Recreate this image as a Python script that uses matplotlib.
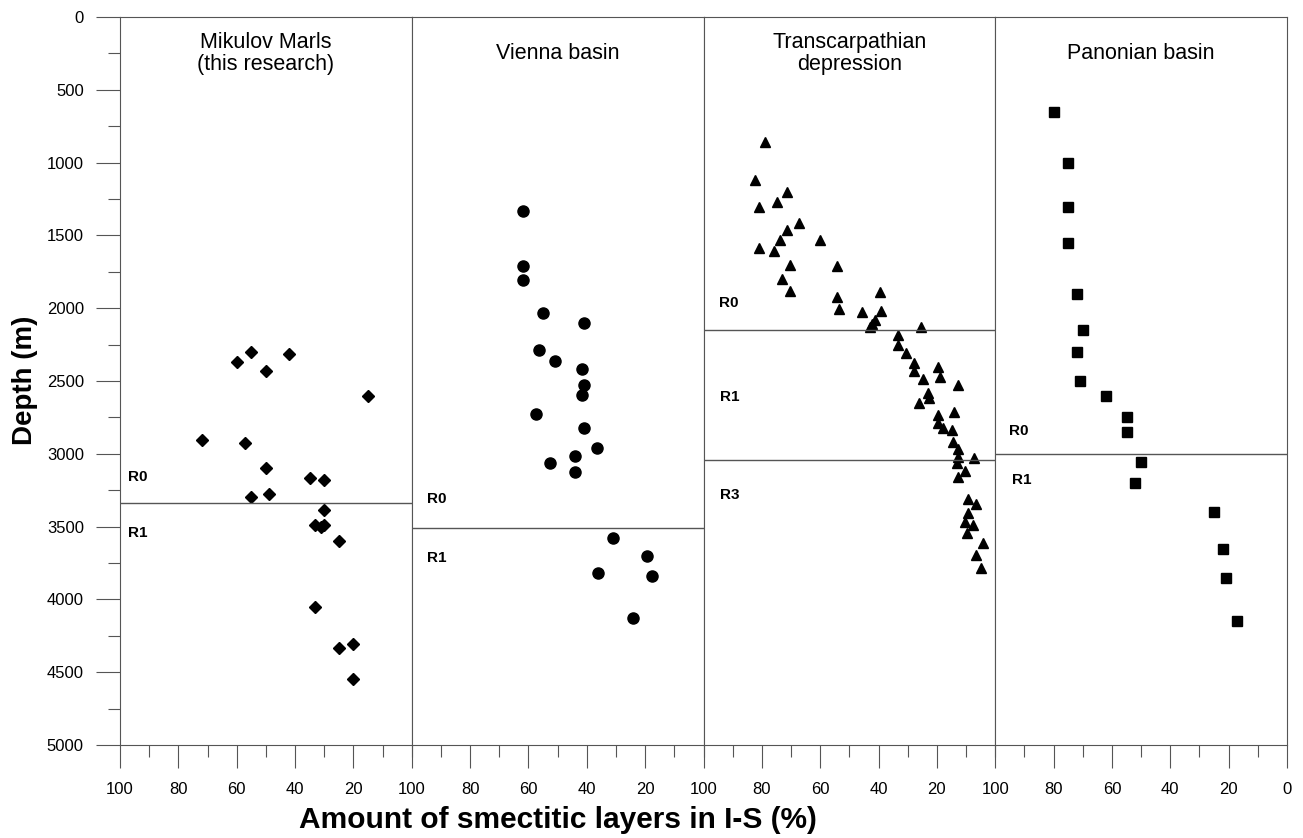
import matplotlib.pyplot as plt
from matplotlib.ticker import MultipleLocator

plt.rcParams['font.family'] = ['Liberation Sans', 'DejaVu Sans']

# Mikulov Marls (this research)
mik_ism = [60, 55, 50, 42, 15, 72, 57, 50, 35, 30, 55, 49, 30, 33, 31, 30, 25, 33, 25, 20, 20]
mik_depth = [2372, 2299, 2433, 2315, 2603, 2905, 2924, 3100, 3168, 3180, 3299, 3276,
             3386, 3490, 3500, 3488, 3597, 4054, 4336, 4306, 4549]

# Vienna basin
vie_ism = [62, 62, 62, 55, 41, 56.5, 51, 41.5, 41, 41.5, 57.5, 41, 36.5, 44, 52.5, 44,
           31, 19.5, 36, 17.5, 24]
vie_depth = [1330, 1710, 1805, 2030, 2105, 2290, 2365, 2415, 2530, 2595, 2730, 2820,
             2960, 3015, 3060, 3125, 3575, 3705, 3820, 3840, 4125]

# Transcarpathian depression
tra_ism = [79.0, 82.4, 71.5, 74.8, 81.1, 67.2, 71.5, 60.1, 73.7, 81.1, 75.7, 70.4, 54.1,
           73.0, 70.4, 39.5, 54.1, 53.5, 39.2, 45.6, 41.1, 42.3, 42.9, 25.4, 33.2, 33.2,
           30.7, 27.7, 27.8, 19.5, 18.9, 24.7, 12.7, 23.0, 22.6, 26.0, 14.0, 19.5, 19.5,
           17.8, 14.9, 14.6, 12.7, 12.7, 7.2, 13.2, 10.3, 12.7, 9.2, 6.7, 9.2, 10.3, 7.7,
           9.7, 4.3, 6.7, 4.9]
tra_depth = [858, 1119, 1204, 1268, 1303, 1413, 1463, 1532, 1532, 1584, 1605, 1703, 1710,
             1802, 1880, 1887, 1921, 2005, 2017, 2028, 2081, 2111, 2127, 2127, 2186, 2253,
             2305, 2379, 2429, 2406, 2470, 2486, 2527, 2585, 2619, 2653, 2711, 2734, 2786,
             2825, 2837, 2917, 2967, 3020, 3031, 3065, 3118, 3157, 3310, 3347, 3409, 3466,
             3489, 3546, 3610, 3695, 3782]

# Panonian basin
pan_ism = [80, 75, 75, 75, 72, 70, 72, 71, 62, 55, 55, 50, 52, 25, 22, 21, 17]
pan_depth = [650, 1005, 1303, 1554, 1902, 2150, 2303, 2498, 2603, 2750, 2852, 3054, 3203,
             3402, 3654, 3851, 4150]

titles = ["Mikulov Marls\n(this research)", "Vienna basin",
          "Transcarpathian\ndepression", "Panonian basin"]
markers = ["D", "o", "^", "s"]
sizes = [6.4, 8, 7.5, 7.5]
boundaries = [[3340], [3510], [2150, 3040], [3000]]
zone_labels = [[("R0", 97.2, 3157), ("R1", 97.2, 3544)],
               [("R0", 94.9, 3310), ("R1", 94.9, 3716)],
               [("R0", 94.6, 1964), ("R1", 94.3, 2610), ("R3", 94.3, 3283)],
               [("R0", 95.4, 2841), ("R1", 94.3, 3180)]]
series = [(mik_ism, mik_depth), (vie_ism, vie_depth), (tra_ism, tra_depth), (pan_ism, pan_depth)]

grey = "#555555"
fig, axes = plt.subplots(1, 4, sharey=True, figsize=(13.03, 8.38), dpi=100)
fig.subplots_adjust(left=120 / 1303, right=1287 / 1303, top=1 - 17 / 838,
                    bottom=1 - 745 / 838, wspace=0)

for i, ax in enumerate(axes):
    x, y = series[i]
    ax.plot(x, y, linestyle="none", marker=markers[i], markersize=sizes[i], color="black")
    for b in boundaries[i]:
        ax.axhline(b, color=grey, linewidth=1)
    for txt, lx, ly in zone_labels[i]:
        ax.text(lx, ly, txt, fontsize=11, fontweight="bold", ha="left", va="center")
    ax.text(50, 250, titles[i], fontsize=15.5, ha="center", va="center",
            multialignment="center", linespacing=1.05)
    ax.set_xlim(100, 0)
    ax.xaxis.set_major_locator(MultipleLocator(20))
    ax.xaxis.set_minor_locator(MultipleLocator(10))
    if i < 3:
        ax.set_xticks([100, 80, 60, 40, 20])
    ax.tick_params(axis="x", which="major", direction="out", length=16.5, width=0.8,
                   color=grey, labelsize=12, pad=10)
    ax.tick_params(axis="x", which="minor", direction="out", length=8.5, width=0.8,
                   color=grey)
    for s in ax.spines.values():
        s.set_color(grey)
        s.set_linewidth(0.8)
    if i > 0:
        ax.tick_params(axis="y", which="both", left=False)

ax0 = axes[0]
ax0.set_ylim(5000, 0)
ax0.yaxis.set_major_locator(MultipleLocator(500))
ax0.yaxis.set_minor_locator(MultipleLocator(250))
ax0.tick_params(axis="y", which="major", direction="out", length=17, width=0.8,
                color=grey, labelsize=12, pad=9)
ax0.tick_params(axis="y", which="minor", direction="out", length=8.5, width=0.8, color=grey)

fig.text(558 / 1303, 1 - 820 / 838, "Amount of smectitic layers in I-S (%)",
         fontsize=21.5, fontweight="bold", ha="center", va="center")
fig.text(25 / 1303, 1 - 380 / 838, "Depth (m)", fontsize=20, fontweight="bold",
         rotation=90, ha="center", va="center")

fig.savefig("out.png", dpi=100)
